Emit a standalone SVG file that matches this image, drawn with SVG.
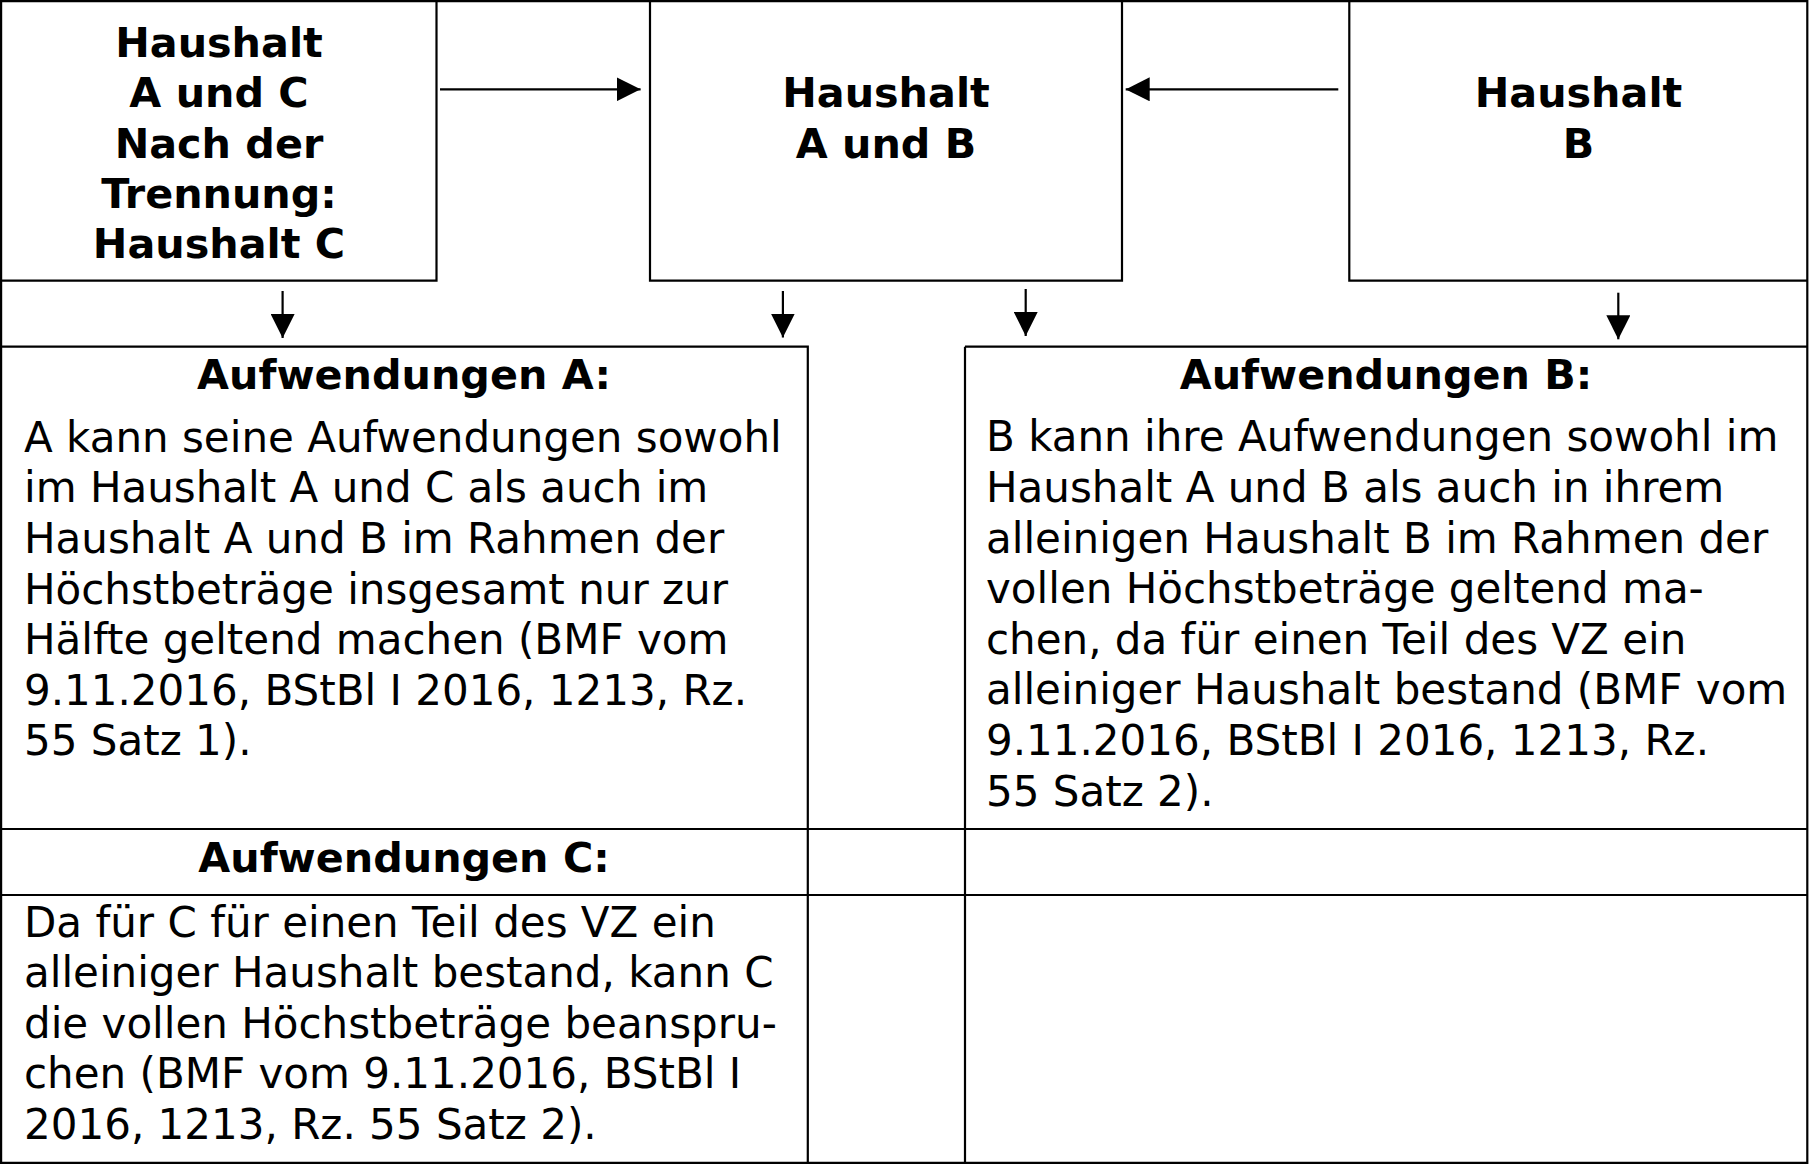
<svg xmlns="http://www.w3.org/2000/svg" width="1809" height="1164" viewBox="0 0 1809 1164">
<style>
.ln{stroke:#000;stroke-width:2.2;fill:none}
.cn{stroke:#000;stroke-width:2.2;fill:none}
text{font-family:"DejaVu Sans",Verdana,sans-serif;font-size:42px;fill:#000}
.b{font-weight:bold;text-anchor:middle;font-size:41.3px}
</style>
<defs>
<marker id="ah" markerUnits="userSpaceOnUse" markerWidth="24" markerHeight="24" refX="24" refY="12" orient="auto" viewBox="0 0 24 24">
<path d="M0,0 L24,12 L0,24 z" fill="#000"/>
</marker>
</defs>
<rect width="1809" height="1164" fill="#fff"/>
<g id="grid">
<path class="ln" d="M0,1.1 H1808 M1.1,0 V1164 M1807.3,0 V1164 M0,1162.8 H1808"/>
<path class="ln" d="M0,829 H1808 M0,895 H1808 M0,346.7 H808.9 M965,346.7 H1808 M807.8,346.7 V1164 M965,346.7 V1164"/>
</g>
<g id="node-ac">
<path class="ln" d="M436.5,0 V280.7 H0"/>
<text class="b" x="219" y="56.7">Haushalt</text>
<text class="b" x="219" y="107.1">A und C</text>
<text class="b" x="219" y="157.5">Nach der</text>
<text class="b" x="219" y="207.9">Trennung:</text>
<text class="b" x="219" y="258.3">Haushalt C</text>
</g>
<g id="node-ab">
<path class="ln" d="M650,0 V280.7 H1122 V0"/>
<text class="b" x="886" y="107.3">Haushalt</text>
<text class="b" x="886" y="157.7">A und B</text>
</g>
<g id="node-b">
<path class="ln" d="M1349.3,0 V280.7 H1808"/>
<text class="b" x="1578.5" y="107.3">Haushalt</text>
<text class="b" x="1578.5" y="157.7">B</text>
</g>
<g id="node-aufw-a">
<text class="b" x="404" y="389">Aufwendungen A:</text>
<text x="24" y="451.7">A kann seine Aufwendungen sowohl</text>
<text x="24" y="502.3">im Haushalt A und C als auch im</text>
<text x="24" y="552.9">Haushalt A und B im Rahmen der</text>
<text x="24" y="603.5">Höchstbeträge insgesamt nur zur</text>
<text x="24" y="654.1">Hälfte geltend machen (BMF vom</text>
<text x="24" y="704.7">9.11.2016, BStBl I 2016, 1213, Rz.</text>
<text x="24" y="755.3">55 Satz 1).</text>
</g>
<g id="node-aufw-b">
<text class="b" x="1386" y="389">Aufwendungen B:</text>
<text x="986" y="451.3">B kann ihre Aufwendungen sowohl im</text>
<text x="986" y="501.9">Haushalt A und B als auch in ihrem</text>
<text x="986" y="552.5">alleinigen Haushalt B im Rahmen der</text>
<text x="986" y="603.1">vollen Höchstbeträge geltend ma-</text>
<text x="986" y="653.7">chen, da für einen Teil des VZ ein</text>
<text x="986" y="704.3">alleiniger Haushalt bestand (BMF vom</text>
<text x="986" y="754.9">9.11.2016, BStBl I 2016, 1213, Rz.</text>
<text x="986" y="805.5">55 Satz 2).</text>
</g>
<g id="node-aufw-c">
<text class="b" x="404" y="871.7">Aufwendungen C:</text>
<text x="24" y="936.7">Da für C für einen Teil des VZ ein</text>
<text x="24" y="987.2">alleiniger Haushalt bestand, kann C</text>
<text x="24" y="1037.7">die vollen Höchstbeträge beanspru-</text>
<text x="24" y="1088.2">chen (BMF vom 9.11.2016, BStBl I</text>
<text x="24" y="1138.7">2016, 1213, Rz. 55 Satz 2).</text>
</g>
<g id="connectors">
<line class="cn" x1="440" y1="89.3" x2="640.6" y2="89.3" marker-end="url(#ah)"/>
<line class="cn" x1="1338.3" y1="89.3" x2="1125.7" y2="89.3" marker-end="url(#ah)"/>
<line class="cn" x1="282.6" y1="291" x2="282.6" y2="338" marker-end="url(#ah)"/>
<line class="cn" x1="782.9" y1="291" x2="782.9" y2="337.5" marker-end="url(#ah)"/>
<line class="cn" x1="1025.7" y1="289" x2="1025.7" y2="336" marker-end="url(#ah)"/>
<line class="cn" x1="1618.3" y1="292.7" x2="1618.3" y2="339.3" marker-end="url(#ah)"/>
</g>
</svg>
